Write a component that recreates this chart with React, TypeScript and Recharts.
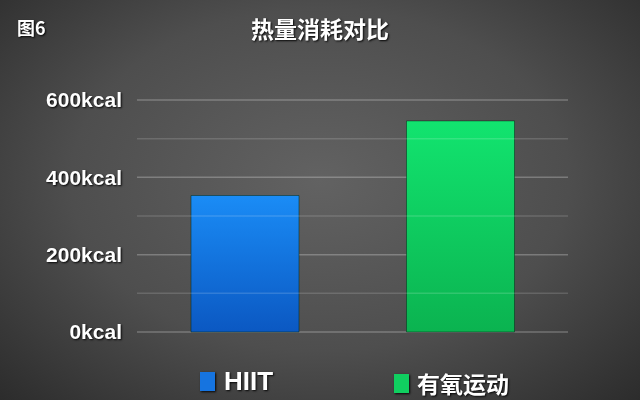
import { BarChart, Bar, XAxis, YAxis, CartesianGrid, ReferenceLine, Cell } from 'recharts';

const categories = ['HIIT', '有氧运动'];
const calories = [353, 546];
const yTicks = [0, 200, 400, 600];
const minorLines = [100, 300, 500];
const barColors = ['url(#gradBlue)', 'url(#gradGreen)'];
const legendColors = ['#1674e0', '#10cf60'];

const chartData = categories.map((name, i) => ({ name, value: calories[i] }));

const shadow = '1px 1px 2px rgba(0,0,0,0.9)';

export default function App() {
  return (
    <div
      style={{
        position: 'fixed',
        left: 0,
        top: 0,
        width: 640,
        height: 400,
        overflow: 'hidden',
        background: 'radial-gradient(ellipse at 50% 45%, #626262 0%, #4e4e4e 55%, #2c2c2c 100%)',
        fontFamily: '"Liberation Sans", "Noto Sans CJK SC", sans-serif',
      }}
    >
      <div
        style={{
          position: 'absolute',
          left: 17,
          top: 14,
          color: '#fff',
          fontWeight: 700,
          fontSize: 18,
          fontFamily: '"Noto Sans CJK SC", sans-serif',
          textShadow: shadow,
        }}
      >
        图6
      </div>
      <div
        style={{
          position: 'absolute',
          left: 0,
          width: 640,
          top: 11,
          textAlign: 'center',
          color: '#fff',
          fontWeight: 700,
          fontSize: 23,
          fontFamily: '"Noto Sans CJK SC", sans-serif',
          textShadow: shadow,
        }}
      >
        热量消耗对比
      </div>
      <BarChart width={640} height={400} data={chartData} margin={{ top: 100, right: 72, bottom: 68, left: 0 }}>
        <defs>
          <linearGradient id="gradBlue" x1="0" y1="0" x2="0" y2="1">
            <stop offset="0%" stopColor="#1a8cf6" />
            <stop offset="100%" stopColor="#0b58c2" />
          </linearGradient>
          <linearGradient id="gradGreen" x1="0" y1="0" x2="0" y2="1">
            <stop offset="0%" stopColor="#12e46f" />
            <stop offset="100%" stopColor="#0bb350" />
          </linearGradient>
        </defs>
        <CartesianGrid vertical={false} stroke="rgba(255,255,255,0.25)" strokeWidth={1.5} />
        {minorLines.map((v) => (
          <ReferenceLine key={v} y={v} stroke="rgba(255,255,255,0.15)" strokeWidth={1.5} />
        ))}
        <XAxis dataKey="name" hide />
        <YAxis
          width={137}
          domain={[0, 600]}
          ticks={yTicks}
          tickFormatter={(v) => `${v}kcal`}
          axisLine={false}
          tickLine={false}
          tickSize={0}
          tickMargin={15}
          tick={{ fill: '#ffffff', fontSize: 21, fontWeight: 700, style: { textShadow: shadow } }}
        />
        <Bar dataKey="value" barSize={108} isAnimationActive={false} stroke="rgba(0,40,20,0.5)" strokeWidth={1}>
          {chartData.map((d, i) => (
            <Cell key={d.name} fill={barColors[i]} />
          ))}
        </Bar>
      </BarChart>
      {categories.map((name, i) => (
        <div
          key={name}
          style={{
            position: 'absolute',
            left: i === 0 ? 200 : 394,
            top: 366,
            display: 'flex',
            alignItems: 'center',
            color: '#fff',
            fontWeight: 700,
            fontSize: i === 0 ? 26 : 23,
            fontFamily: i === 0 ? '"Liberation Sans", sans-serif' : '"Noto Sans CJK SC", sans-serif',
            textShadow: shadow,
          }}
        >
          <span
            style={{
              display: 'inline-block',
              width: 15,
              height: 19,
              marginRight: i === 0 ? 9 : 8,
              background: legendColors[i],
              boxShadow: shadow,
            }}
          />
          {name}
        </div>
      ))}
    </div>
  );
}
